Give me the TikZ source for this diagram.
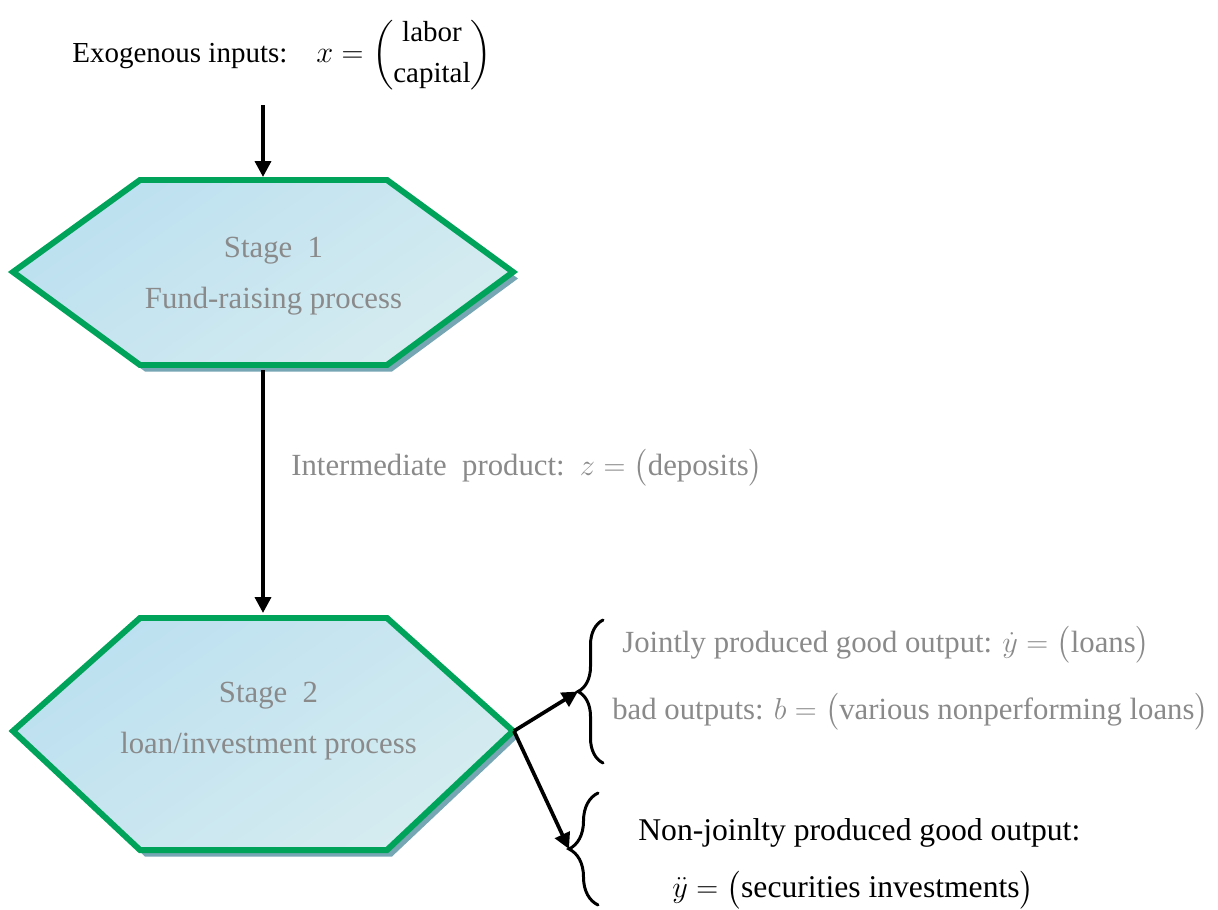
\documentclass[tikz,border=0pt]{standalone}
\usepackage{amsmath, amsfonts, amssymb}
\usepackage{fontspec}
\setmainfont{Liberation Serif}
\usetikzlibrary{arrows.meta, decorations.pathreplacing}
\definecolor{hexgreen}{RGB}{0,163,90}
\definecolor{hexshadow}{RGB}{118,165,180}
\definecolor{hexlight}{RGB}{214,236,240}
\definecolor{hexblue}{RGB}{188,224,240}
\definecolor{textgray}{RGB}{138,138,138}

\begin{document}
\begin{tikzpicture}[
  hexline/.style={draw=hexgreen, line width=3.4pt, line join=miter, left color=hexblue, right color=hexlight, shading angle=35},
  hexshade/.style={fill=hexshadow},
  flow/.style={-{Triangle[length=9pt,width=9pt]}, line width=2.1pt},
  bracket/.style={decorate, line width=1.7pt, line cap=round},
  stagetext/.style={text=textgray, align=center, font=\fontsize{17.5}{29}\selectfont},
  graytext/.style={text=textgray, anchor=west, inner sep=0pt, font=\fontsize{17.5}{21}\selectfont},
  blacktext/.style={anchor=west, inner sep=0pt, font=\fontsize{18}{22}\selectfont}
]
\useasboundingbox (0,0) rectangle (24.36,-18.18);

\fill[hexshade] (0.36,-5.57) -- ++(2.54,1.84) -- ++(4.94,0) -- ++(2.52,-1.84) -- ++(-2.52,-1.86) -- ++(-4.94,0) -- cycle;
\draw[hexline] (0.26,-5.44) -- ++(2.54,1.84) -- ++(4.94,0) -- ++(2.52,-1.84) -- ++(-2.52,-1.86) -- ++(-4.94,0) -- cycle;
\fill[hexshade] (0.36,-14.75) -- ++(2.54,2.26) -- ++(4.94,0) -- ++(2.52,-2.26) -- ++(-2.52,-2.38) -- ++(-4.94,0) -- cycle;
\draw[hexline] (0.26,-14.62) -- ++(2.54,2.26) -- ++(4.94,0) -- ++(2.52,-2.26) -- ++(-2.52,-2.38) -- ++(-4.94,0) -- cycle;

\coordinate (in) at (5.26,-2.1);
\coordinate (s1n) at (5.26,-3.54);
\coordinate (s1s) at (5.26,-7.4);
\coordinate (s2n) at (5.26,-12.26);
\coordinate (s2e) at (10.28,-14.62);
\coordinate (b1tip) at (11.56,-13.83);
\coordinate (b2tip) at (11.38,-16.98);

\node[blacktext, font=\fontsize{16.5}{20}\selectfont] (inputs) at (1.44,-1.1)
  {Exogenous inputs:\quad $x=\left(\begin{matrix}\text{labor}\\[3pt] \text{capital}\end{matrix}\right)$};
\node[stagetext] (stage1) at (5.47,-5.52) {Stage\ \ 1\\Fund-raising process};
\node[graytext] (inter) at (5.82,-9.36) {Intermediate\ \ product:\ \ $z=\bigl(\text{deposits}\bigr)$};
\node[stagetext] (stage2) at (5.37,-14.42) {Stage\ \ 2\\loan/investment process};

\node[graytext] (joint) at (12.44,-12.9) {Jointly produced good output: $\dot{y}=\bigl(\text{loans}\bigr)$};
\node[graytext] (bad) at (12.24,-14.24) {bad outputs: $b=\bigl(\text{various nonperforming loans}\bigr)$};
\node[blacktext] (nonjoint) at (12.76,-16.66) {Non-joinlty produced good output:};
\node[blacktext] (secur) at (13.44,-17.8) {$\ddot{y}=\bigl(\text{securities investments}\bigr)$};

\draw[bracket, decoration={brace, amplitude=0.5cm}] (12.06,-15.26) -- (12.06,-12.4);
\draw[bracket, decoration={brace, amplitude=0.58cm}] (11.96,-18.1) -- (11.96,-15.86);

\draw[flow] (in) -- (s1n);
\draw[flow] (s1s) -- (s2n);
\draw[flow] (s2e) -- (b1tip);
\draw[flow] (s2e) -- (b2tip);
\end{tikzpicture}
\end{document}
